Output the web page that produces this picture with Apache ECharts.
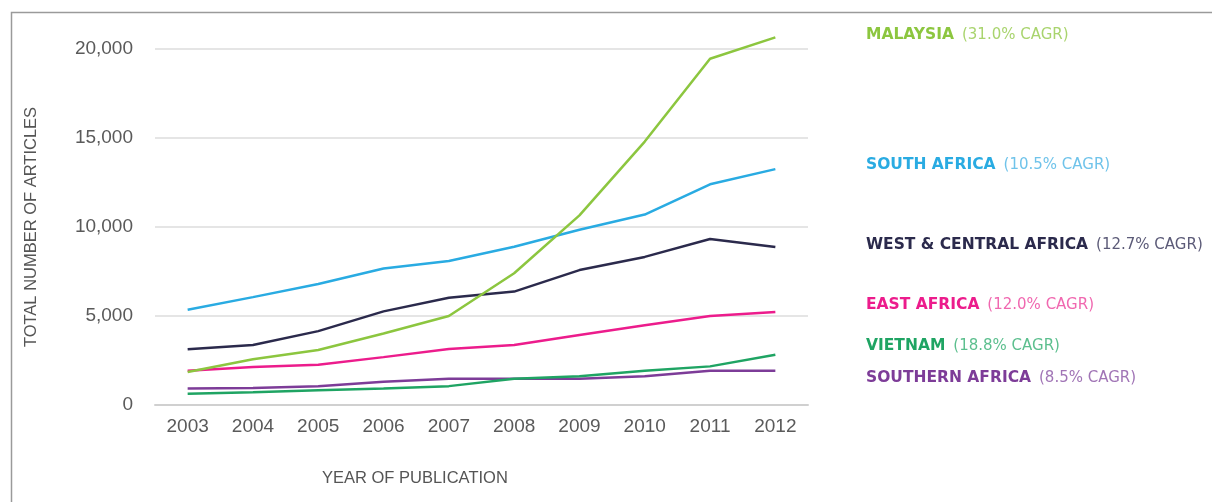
<!DOCTYPE html>
<html>
<head>
<meta charset="utf-8">
<script src="https://cdn.jsdelivr.net/npm/echarts@6/dist/echarts.min.js"></script>
<style>
html,body{margin:0;padding:0;background:#fff;}
#chart{width:1212px;height:502px;}
</style>
</head>
<body>
<div id="chart"></div>
<script>
var years = ['2003','2004','2005','2006','2007','2008','2009','2010','2011','2012'];
var malaysia = [1850, 2570, 3090, 4020, 5000, 7400, 10650, 14800, 19450, 20650];
var southAfrica = [5350, 6060, 6800, 7670, 8090, 8890, 9850, 10700, 12400, 13250];
var westCentral = [3130, 3370, 4150, 5260, 6020, 6370, 7580, 8320, 9330, 8870];
var eastAfrica = [1930, 2130, 2260, 2690, 3150, 3370, 3930, 4480, 5000, 5220];
var vietnam = [630, 720, 830, 930, 1060, 1480, 1610, 1930, 2170, 2820];
var southernAfrica = [930, 960, 1060, 1300, 1480, 1480, 1480, 1610, 1930, 1930];

var seriesNames = ['MALAYSIA', 'SOUTH AFRICA', 'WEST & CENTRAL AFRICA', 'EAST AFRICA', 'VIETNAM', 'SOUTHERN AFRICA'];
var cagrLabels = ['(31.0% CAGR)', '(10.5% CAGR)', '(12.7% CAGR)', '(12.0% CAGR)', '(18.8% CAGR)', '(8.5% CAGR)'];
var seriesData = [malaysia, southAfrica, westCentral, eastAfrica, vietnam, southernAfrica];
var colors = ['#8cc63f', '#29abe2', '#2b2a4c', '#ec1c8c', '#1fa463', '#7d3c98'];
var lightColors = ['#a9d46e', '#6fc3ea', '#5c5b78', '#f068b0', '#5cbf8e', '#a175b6'];
var labelCenters = [35, 165, 245, 305, 346, 378];

var chart = echarts.init(document.getElementById('chart'), null, {renderer: 'canvas'});

var series = seriesData.map(function (d, i) {
  return {
    name: seriesNames[i],
    type: 'line',
    data: d,
    symbol: 'none',
    smooth: false,
    clip: false,
    z: 10 - i,
    lineStyle: {color: colors[i], width: 2.5},
    itemStyle: {color: colors[i]}
  };
});

var graphics = [
  {type: 'rect', left: 9, top: 10, shape: {width: 1220, height: 520}, style: {fill: 'none', stroke: '#9a9a9a', lineWidth: 1.5}, silent: true},
  {type: 'text', x: 322, y: 478, style: {text: 'YEAR OF PUBLICATION', fill: '#555', verticalAlign: 'middle', font: '16.5px "Liberation Sans", Arial, sans-serif'}}
];
seriesNames.forEach(function (n, i) {
  graphics.push({
    type: 'text', x: 866, y: labelCenters[i],
    style: {
      verticalAlign: 'middle',
      rich: {
        a: {fill: colors[i], fontWeight: 'bold', fontSize: 15.5, fontFamily: '"DejaVu Sans", sans-serif'},
        b: {fill: lightColors[i], fontSize: 15, fontFamily: '"DejaVu Sans", sans-serif', padding: [0, 0, 0, 8]}
      },
      text: '{a|' + n + '}{b|' + cagrLabels[i] + '}'
    }
  });
});

chart.setOption({
  animation: false,
  backgroundColor: '#fff',
  grid: {left: 155, right: 404, top: 49, bottom: 97},
  xAxis: {
    type: 'category',
    data: years,
    boundaryGap: true,
    axisLine: {lineStyle: {color: '#d0d0d0', width: 2}},
    axisTick: {alignWithLabel: true, lineStyle: {color: '#c8c8c8'}, length: 5},
    axisLabel: {color: '#5a5a5a', fontSize: 19, margin: 12, fontFamily: '"Liberation Sans", Arial, sans-serif'}
  },
  yAxis: {
    type: 'value',
    min: 0, max: 20000, interval: 5000,
    name: 'TOTAL NUMBER OF ARTICLES',
    nameLocation: 'middle',
    nameRotate: 90,
    nameGap: 115,
    nameTextStyle: {color: '#555', fontSize: 16.5, fontFamily: '"Liberation Sans", Arial, sans-serif'},
    axisLine: {show: false},
    axisTick: {show: false},
    splitLine: {lineStyle: {color: '#dcdcdc', width: 1.5}},
    axisLabel: {
      color: '#5a5a5a', fontSize: 19, margin: 22, fontFamily: '"Liberation Sans", Arial, sans-serif',
      formatter: function (v) { return v.toLocaleString('en-US'); }
    }
  },
  series: series,
  graphic: graphics
});
</script>
</body>
</html>
